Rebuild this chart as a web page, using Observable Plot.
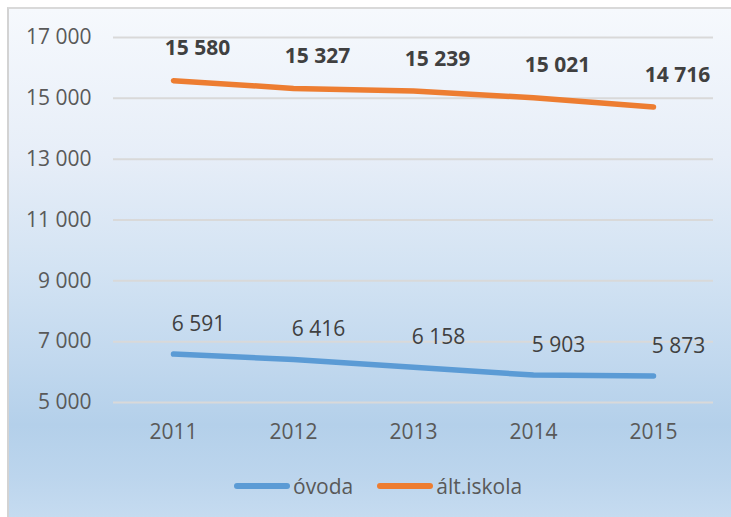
<!DOCTYPE html>
<html>
<head>
<meta charset="utf-8">
<script src="https://cdn.jsdelivr.net/npm/d3@7"></script>
<script src="https://cdn.jsdelivr.net/npm/@observablehq/plot@0.6"></script>
<style>
  html, body { margin: 0; padding: 0; background: #ffffff; }
  #page { position: relative; width: 731px; height: 517px; overflow: hidden; font-family: "Open Sans", sans-serif; }
  #box {
    position: absolute; left: 7px; top: 7px; width: 740px; height: 520px;
    border-left: 2px solid #d3d3d3; border-top: 2px solid #d9d9d9;
    background: linear-gradient(to bottom, #f6f9fd 0%, #e7eef8 28%, #d3e3f3 50%, #c1d8ee 68%, #b4d0ea 80%, #bcd5ed 90%, #c8ddf1 100%);
  }
  #chart { position: absolute; left: 0; top: 0; }
  #legend { position: absolute; left: 234px; top: 472px; display: flex; align-items: center; font-size: 21px; color: #595959; }
  .item { display: flex; align-items: center; margin-right: 24px; }
  .sw { width: 56px; height: 6px; border-radius: 3px; margin-right: 3px; }
</style>
</head>
<body>
<div id="page">
  <div id="box"></div>
  <div id="chart"></div>
  <div id="legend"></div>
</div>
<script>
const years = ["2011", "2012", "2013", "2014", "2015"];
const ovoda = [6591, 6416, 6158, 5903, 5873];
const altIskola = [15580, 15327, 15239, 15021, 14716];
const seriesNames = ["óvoda", "ált.iskola"];
const seriesColors = ["#5b9bd5", "#ed7d31"];
const yTicks = [5000, 7000, 9000, 11000, 13000, 15000, 17000];

const fmt = v => d3.format(",")(v).replace(/,/g, " ");

const data = [];
years.forEach((y, i) => {
  data.push({year: y, value: ovoda[i], series: seriesNames[0]});
  data.push({year: y, value: altIskola[i], series: seriesNames[1]});
});
const dOvoda = data.filter(d => d.series === seriesNames[0]);
const dAlt = data.filter(d => d.series === seriesNames[1]);

const chart = Plot.plot({
  width: 731,
  height: 460,
  marginLeft: 113,
  marginRight: 18,
  marginTop: 37,
  marginBottom: 58,
  style: {background: "transparent", fontFamily: "'Open Sans', sans-serif", fontSize: "21px", color: "#595959"},
  x: {type: "point", domain: years, padding: 0.5, label: null},
  y: {domain: [5000, 17000], label: null},
  color: {domain: seriesNames, range: seriesColors},
  marks: [
    Plot.gridY(yTicks, {stroke: "#d9d9d9", strokeOpacity: 1, strokeWidth: 2}),
    Plot.axisY(yTicks, {tickSize: 0, tickPadding: 22, tickFormat: fmt, fontSize: 21, label: null}),
    Plot.axisX({tickSize: 0, tickPadding: 22, fontSize: 21, label: null}),
    Plot.line(data, {x: "year", y: "value", z: "series", stroke: "series", strokeWidth: 5.5, strokeLinecap: "round", strokeLinejoin: "round"}),
    Plot.text(dAlt, {x: "year", y: "value", text: d => fmt(d.value), dx: 24, dy: -32, fontSize: 21, fontWeight: "bold", fill: "#404040"}),
    Plot.text(dOvoda, {x: "year", y: "value", text: d => fmt(d.value), dx: 25, dy: -30, fontSize: 21, fill: "#404040"})
  ]
});
document.getElementById("chart").appendChild(chart);

const legend = document.getElementById("legend");
seriesNames.forEach((name, i) => {
  const item = document.createElement("div");
  item.className = "item";
  const sw = document.createElement("div");
  sw.className = "sw";
  sw.style.background = seriesColors[i];
  const label = document.createElement("span");
  label.textContent = name;
  item.appendChild(sw);
  item.appendChild(label);
  legend.appendChild(item);
});
</script>
</body>
</html>
